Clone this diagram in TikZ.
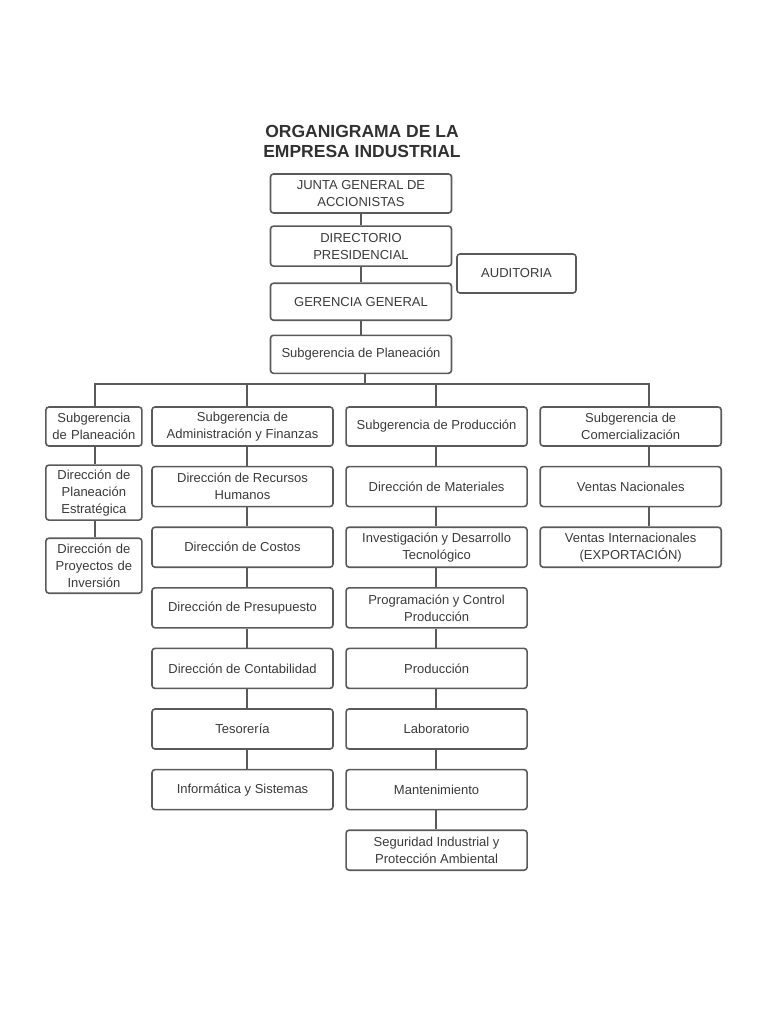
\documentclass[tikz,border=0pt]{standalone}
\usepackage{fontspec}
\setmainfont{Liberation Sans}
\usetikzlibrary{positioning}
\definecolor{lineGray}{HTML}{5A5A5A}
\definecolor{textGray}{HTML}{3A3A3A}
\tikzstyle{recNode} = [rectangle, minimum width=181pt, minimum height=40pt, inner sep=3pt, text centered, align=center, rounded corners=3pt, draw=lineGray, line width=1.6pt, text=textGray, font=\fontsize{13}{17}\selectfont]
\tikzstyle{recNodeS} = [recNode, minimum width=96pt, text width=90pt, minimum height=55pt]
\tikzstyle{titleNode} = [align=center, text=textGray!85!black, font=\fontsize{17.5}{20}\selectfont\bfseries]
\tikzstyle{conn} = [draw=lineGray, line width=1.6pt]

\begin{document}
\begin{tikzpicture}[node distance=19pt]
        \useasboundingbox (0,0) rectangle (768pt,-1024pt);
        \node (title) [titleNode] at (362pt,-141pt) {ORGANIGRAMA DE LA\\EMPRESA INDUSTRIAL};
        \node (junta) [recNode, minimum height=39pt] at (361pt,-193.5pt) {JUNTA GENERAL DE\\ACCIONISTAS};
        \node (directorio) [recNode, below=11.5pt of junta] {DIRECTORIO\\PRESIDENCIAL};
        \node (gerencia) [recNode, minimum height=37pt, below=15.5pt of directorio] {GERENCIA GENERAL};
        \node (subPlan) [recNode, minimum height=38pt, below=13.5pt of gerencia] {Subgerencia de Planeación};
        \node (auditoria) [recNode, minimum width=119pt, minimum height=39pt] at (516.5pt,-273.5pt) {AUDITORIA};

        \node (sgAdmin) [recNode, minimum height=39pt] at (242.5pt,-426.5pt) {Subgerencia de\\Administración y Finanzas};
        \node (sgPlan) [recNodeS, minimum height=39pt, left=8.5pt of sgAdmin] {Subgerencia\\de Planeación};
        \node (sgProd) [recNode, minimum height=39pt, right=11.5pt of sgAdmin] {Subgerencia de Producción};
        \node (sgCom) [recNode, minimum height=39pt, right=11.5pt of sgProd] {Subgerencia de\\Comercialización};

        \node (dirEstr) [recNodeS, below=17.5pt of sgPlan] {Dirección de\\Planeación\\Estratégica};
        \node (dirInv) [recNodeS, below=16.5pt of dirEstr] {Dirección de\\Proyectos de\\Inversión};

        \node (dirRRHH) [recNode, below=of sgAdmin] {Dirección de Recursos\\Humanos};
        \node (dirCostos) [recNode, below=of dirRRHH] {Dirección de Costos};
        \node (dirPresu) [recNode, below=of dirCostos] {Dirección de Presupuesto};
        \node (dirConta) [recNode, below=of dirPresu] {Dirección de Contabilidad};
        \node (tesoreria) [recNode, below=of dirConta] {Tesorería};
        \node (informatica) [recNode, below=of tesoreria] {Informática y Sistemas};

        \node (dirMat) [recNode, below=of sgProd] {Dirección de Materiales};
        \node (investig) [recNode, below=of dirMat] {Investigación y Desarrollo\\Tecnológico};
        \node (program) [recNode, below=of investig] {Programación y Control\\Producción};
        \node (produccion) [recNode, below=of program] {Producción};
        \node (laboratorio) [recNode, below=of produccion] {Laboratorio};
        \node (mantenim) [recNode, below=of laboratorio] {Mantenimiento};
        \node (seguridad) [recNode, below=of mantenim] {Seguridad Industrial y\\Protección Ambiental};

        \node (ventNac) [recNode, below=of sgCom] {Ventas Nacionales};
        \node (ventInt) [recNode, below=of ventNac] {Ventas Internacionales\\(EXPORTACIÓN)};

        % top chain
        \draw [conn] (junta) -- (directorio);
        \draw [conn] (directorio) -- (gerencia);
        \draw [conn] (gerencia) -- (subPlan);

        % bus to the four subgerencias
        \coordinate (planLine) at (95pt,-384pt);
        \coordinate (admLine) at (247pt,-384pt);
        \coordinate (prodLine) at (436pt,-384pt);
        \coordinate (comLine) at (649pt,-384pt);
        \draw [conn] (subPlan.south -| 365pt,0) -- (365pt,-384pt);
        \draw [conn] (sgPlan.north -| planLine) -- (planLine) -- (comLine) -- (comLine |- sgCom.north);
        \draw [conn] (sgAdmin.north -| admLine) -- (admLine);
        \draw [conn] (sgProd.north -| prodLine) -- (prodLine);

        % columns
        \draw [conn] (sgPlan.south -| planLine) -- (dirEstr.north -| planLine);
        \draw [conn] (dirEstr.south -| planLine) -- (dirInv.north -| planLine);

        \draw [conn] (sgAdmin.south -| admLine) -- (dirRRHH.north -| admLine);
        \draw [conn] (dirRRHH.south -| admLine) -- (dirCostos.north -| admLine);
        \draw [conn] (dirCostos.south -| admLine) -- (dirPresu.north -| admLine);
        \draw [conn] (dirPresu.south -| admLine) -- (dirConta.north -| admLine);
        \draw [conn] (dirConta.south -| admLine) -- (tesoreria.north -| admLine);
        \draw [conn] (tesoreria.south -| admLine) -- (informatica.north -| admLine);

        \draw [conn] (sgProd.south -| prodLine) -- (dirMat.north -| prodLine);
        \draw [conn] (dirMat.south -| prodLine) -- (investig.north -| prodLine);
        \draw [conn] (investig.south -| prodLine) -- (program.north -| prodLine);
        \draw [conn] (program.south -| prodLine) -- (produccion.north -| prodLine);
        \draw [conn] (produccion.south -| prodLine) -- (laboratorio.north -| prodLine);
        \draw [conn] (laboratorio.south -| prodLine) -- (mantenim.north -| prodLine);
        \draw [conn] (mantenim.south -| prodLine) -- (seguridad.north -| prodLine);

        \draw [conn] (sgCom.south -| comLine) -- (ventNac.north -| comLine);
        \draw [conn] (ventNac.south -| comLine) -- (ventInt.north -| comLine);
\end{tikzpicture}
\end{document}
